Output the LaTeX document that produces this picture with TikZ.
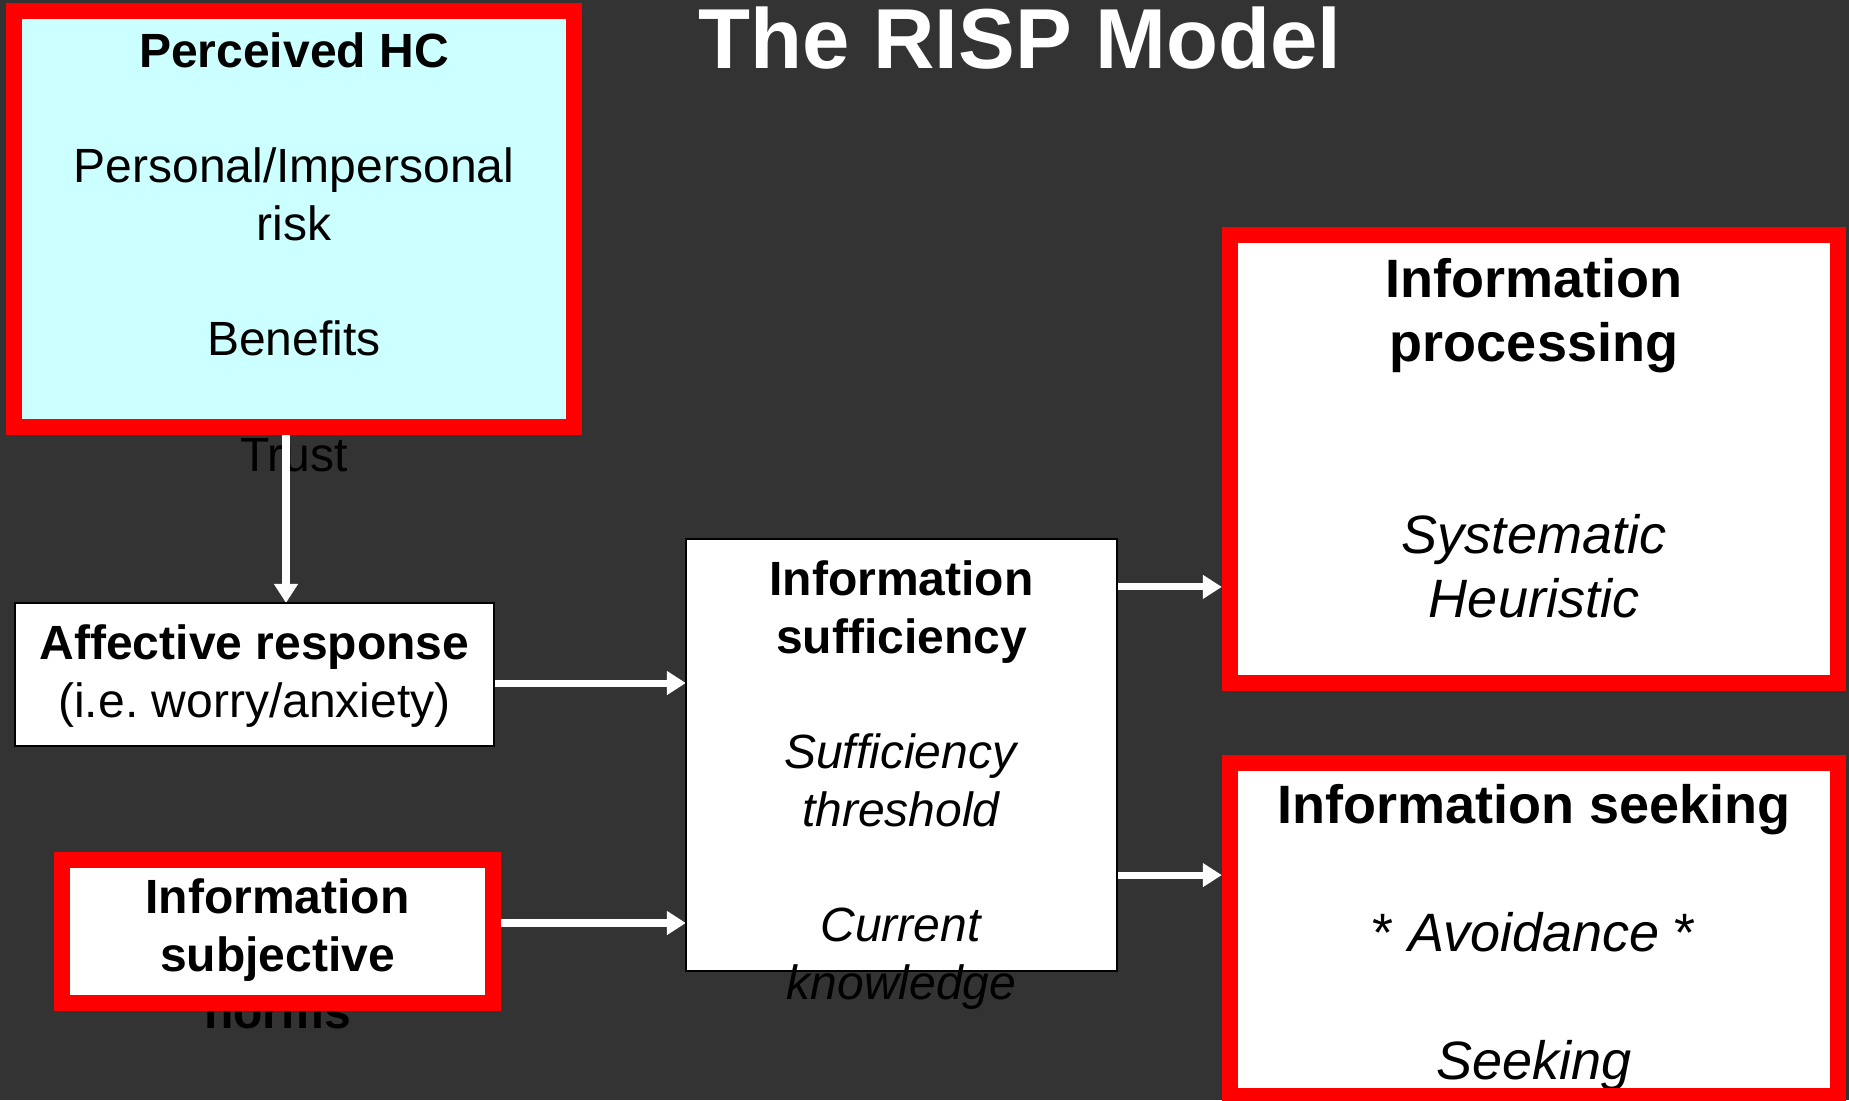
\documentclass[tikz,border=0pt]{standalone}
\usepackage{fontspec}
\setmainfont{Liberation Sans}
\usetikzlibrary{arrows.meta,positioning}
\definecolor{slate}{HTML}{333333}
\definecolor{paleblue}{HTML}{CCFFFF}
\definecolor{hotred}{HTML}{FF0000}

\newcommand{\bodyfont}{\fontsize{13.66}{16.4}\selectfont}
\newcommand{\bigfont}{\fontsize{15.36}{18.2}\selectfont}

\begin{document}
\begin{tikzpicture}[x=0.01cm,y=-0.01cm,
  panel/.style={rectangle,inner sep=0pt,outer sep=0pt,fill=white},
  redframe/.style={draw=hotred,line width=4.55pt},
  blackframe/.style={draw=black,line width=0.6pt},
  txt/.style={align=center,inner sep=0pt,font=\bodyfont},
  bigtxt/.style={align=center,inner sep=0pt,font=\bigfont},
  flow/.style={white,line width=2pt,-{Triangle[width=6.5pt,length=5.4pt]}}]
\useasboundingbox (0,0) rectangle (1849,1100);
\fill[slate] (0,0) rectangle (1849,1100);

\node[white,anchor=base,font=\fontsize{24.2}{29}\selectfont\bfseries] (title) at (1020,68) {The RISP Model};

% boxes
\node[panel,fill=paleblue,minimum width=5.6cm,minimum height=4.16cm] (hc) at (294,219) {};
\node[panel,minimum width=4.79cm,minimum height=1.43cm] (affect) at (254.5,674.5) {};
\node[panel,minimum width=4.31cm,minimum height=1.43cm] (subj) at (277.5,931.5) {};
\node[panel,minimum width=4.31cm,minimum height=4.32cm] (suff) at (901.5,755) {};
\node[panel,minimum width=6.08cm,minimum height=4.48cm] (proc) at (1534,459) {};
\node[panel,minimum width=6.08cm,minimum height=3.33cm] (seek) at (1534,929.5) {};

% texts (they run over the box edges as in the slide)
\node[txt,below=0.21cm of hc.north] (hctxt) {\textbf{Perceived HC}\\ \\Personal/Impersonal\\risk\\ \\Benefits\\ \\Trust};
\node[txt,below=0.21cm of affect.north] (affecttxt) {\textbf{Affective response}\\(i.e.\ worry/anxiety)};
\node[txt,font=\bodyfont\bfseries,below=0.18cm of subj.north] (subjtxt) {Information\\subjective\\norms};
\node[txt,below=0.21cm of suff.north] (sufftxt) {\textbf{Information}\\\textbf{sufficiency}\\ \\\textit{Sufficiency}\\\textit{threshold}\\ \\\textit{Current}\\\textit{knowledge}};
\node[bigtxt,below=0.23cm of proc.north] (proctxt) {\textbf{Information}\\\textbf{processing}\\ \\ \\\textit{Systematic}\\\textit{Heuristic}};
\node[bigtxt,below=0.21cm of seek.north] (seektxt) {\textbf{Information seeking}\\ \\{*} \textit{Avoidance\/} *\\ \\\textit{Seeking}};

% arrows
\coordinate (down) at ([xshift=-0.08cm]hc.south);
\coordinate (in1) at ([yshift=-0.085cm]affect.east);
\coordinate (in2) at ([yshift=0.085cm]subj.east);
\coordinate (out1) at ([yshift=1.68cm]suff.east);
\coordinate (out2) at ([yshift=-1.2cm]suff.east);
\draw[flow] (down) -- (down |- affect.north);
\draw[flow] (in1) -- (in1 -| suff.west);
\draw[flow] (in2) -- (in2 -| suff.west);
\draw[flow,shorten >=0.08cm] (out1) -- (out1 -| proc.west);
\draw[flow,shorten >=0.08cm] (out2) -- (out2 -| seek.west);

% borders on top
\draw[redframe] (hc.north west) rectangle (hc.south east);
\draw[redframe] (subj.north west) rectangle (subj.south east);
\draw[redframe] (proc.north west) rectangle (proc.south east);
\draw[redframe] (seek.north west) rectangle (seek.south east);
\draw[blackframe] (affect.north west) rectangle (affect.south east);
\draw[blackframe] (suff.north west) rectangle (suff.south east);
\end{tikzpicture}
\end{document}
